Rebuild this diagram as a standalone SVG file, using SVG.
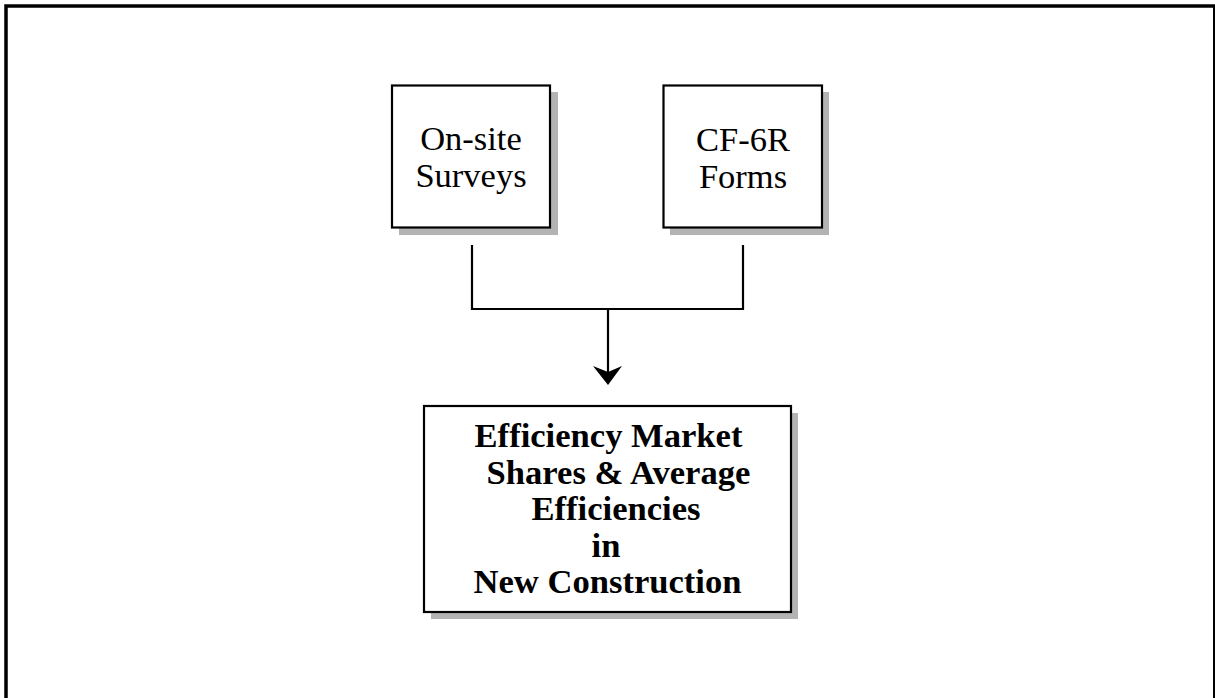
<svg xmlns="http://www.w3.org/2000/svg" width="1215" height="698" viewBox="0 0 1215 698">
<style>
.box{fill:#fff;stroke:#000;stroke-width:2.2}
.shadow{fill:#b3b3b3;stroke:none}
.lbl{font-family:"Liberation Serif","Times New Roman",serif;font-size:34.5px;fill:#000;text-anchor:middle}
.bold{font-weight:bold;font-size:34.6px}
.conn{fill:none;stroke:#000;stroke-width:2.2}
</style>
<rect width="1215" height="698" fill="#fff"/>
<g id="frame">
<path d="M6 700 V6 H1216" fill="none" stroke="#000" stroke-width="3.5"/>
<line x1="1214" y1="6" x2="1214" y2="700" stroke="#000" stroke-width="2"/>
</g>
<g id="node-surveys">
<rect class="shadow" x="399" y="92" width="159" height="143"/>
<rect class="box" x="392" y="85.5" width="158" height="142"/>
<text class="lbl" x="471" y="150">On-site</text>
<text class="lbl" x="471" y="187">Surveys</text>
</g>
<g id="node-cf6r">
<rect class="shadow" x="670" y="92" width="159" height="143"/>
<rect class="box" x="663.5" y="85.5" width="158.5" height="142"/>
<text class="lbl" x="743" y="151">CF-6R</text>
<text class="lbl" x="743" y="188">Forms</text>
</g>
<g id="node-result">
<rect class="shadow" x="431" y="413" width="367" height="206"/>
<rect class="box" x="424" y="406" width="367" height="206"/>
<text class="lbl bold" x="608.5" y="447">Efficiency Market</text>
<text class="lbl bold" x="618.5" y="484">Shares &amp; Average</text>
<text class="lbl bold" x="616" y="520">Efficiencies</text>
<text class="lbl bold" x="606" y="557">in</text>
<text class="lbl bold" x="607.5" y="593">New Construction</text>
</g>
<g id="connectors">
<path class="conn" d="M472 245 V309 H743 V245"/>
<path class="conn" d="M608 309 V372"/>
<polygon points="593,366 608,372 622,366 608,385" fill="#000"/>
</g>
</svg>
